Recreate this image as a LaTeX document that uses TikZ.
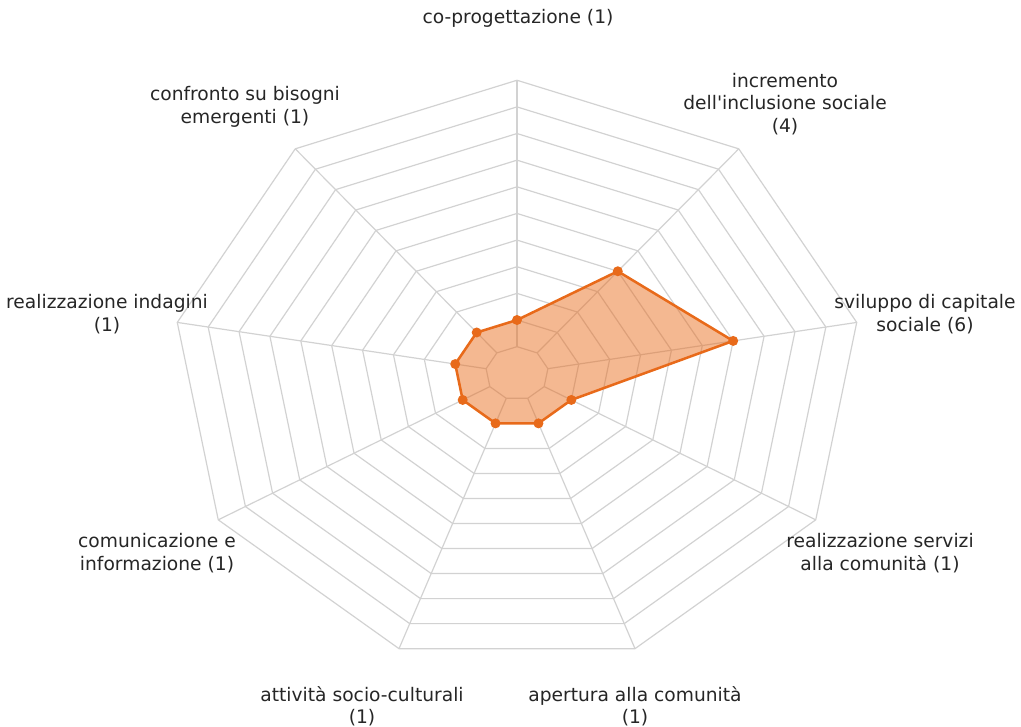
\documentclass[tikz,border=0pt]{standalone}
\usepackage{fontspec}
\setmainfont{DejaVu Sans}
\newcommand\sqapos{\XeTeXglyph\XeTeXcharglyph"0027\relax}
\definecolor{gridc}{HTML}{D2D2D2}
\definecolor{orng}{RGB}{232,106,26}
\definecolor{txt}{HTML}{262626}
\begin{document}
\begin{tikzpicture}[x=0.75pt,y=-0.75pt,
  grid/.style={draw=gridc,line width=0.9pt},
  datafill/.style={fill=orng,fill opacity=0.48},
  dataline/.style={draw=orng,line width=1.9pt,line join=round},
  dot/.style={circle,fill=orng,inner sep=0pt,minimum size=7.5pt},
  lab/.style={text=txt,align=center,inner sep=0pt,font=\fontsize{14}{16.8}\selectfont}]
\useasboundingbox (0,0) rectangle (1021,727);
\def\cx{517}\def\cy{373.3}\def\ux{31.36}\def\uy{26.64}
% grid rings
\foreach \k in {1,...,11}{
  \draw[grid] ({\cx+\k*\ux*cos(90)},{\cy-\k*\uy*sin(90)})
    \foreach \j in {1,...,8}{ -- ({\cx+\k*\ux*cos(90-40*\j)},{\cy-\k*\uy*sin(90-40*\j)}) } -- cycle;
}
% radial lines
\foreach \j in {0,...,8}
  \draw[grid] ({\cx+\ux*cos(90-40*\j)},{\cy-\uy*sin(90-40*\j)}) -- ({\cx+11*\ux*cos(90-40*\j)},{\cy-11*\uy*sin(90-40*\j)});
% data points
\foreach \j/\k in {0/2,1/5,2/7,3/2,4/2,5/2,6/2,7/2,8/2}
  \coordinate (p\j) at ({\cx+\k*\ux*cos(90-40*\j)},{\cy-\k*\uy*sin(90-40*\j)});
\fill[datafill] (p0) -- (p1) -- (p2) -- (p3) -- (p4) -- (p5) -- (p6) -- (p7) -- (p8) -- cycle;
\draw[dataline] (p0) -- (p1) -- (p2) -- (p3) -- (p4) -- (p5) -- (p6) -- (p7) -- (p8) -- cycle;
\foreach \j in {0,...,8} \node[dot] (m\j) at (p\j) {};
% labels
\node[lab] (l0) at (518,18) {co-progettazione (1)};
\node[lab] (l1) at (785,104) {incremento\\dell\sqapos inclusione sociale\\(4)};
\node[lab] (l2) at (925,314) {sviluppo di capitale\\sociale (6)};
\node[lab] (l3) at (880,553) {realizzazione servizi\\alla comunità (1)};
\node[lab] (l4) at (635,706) {apertura alla comunità\\(1)};
\node[lab] (l5) at (362,706) {attività socio-culturali\\(1)};
\node[lab] (l6) at (157,553) {comunicazione e\\informazione (1)};
\node[lab] (l7) at (107,314) {realizzazione indagini\\(1)};
\node[lab] (l8) at (245,107) {confronto su bisogni\\emergenti (1)};
\end{tikzpicture}
\end{document}
